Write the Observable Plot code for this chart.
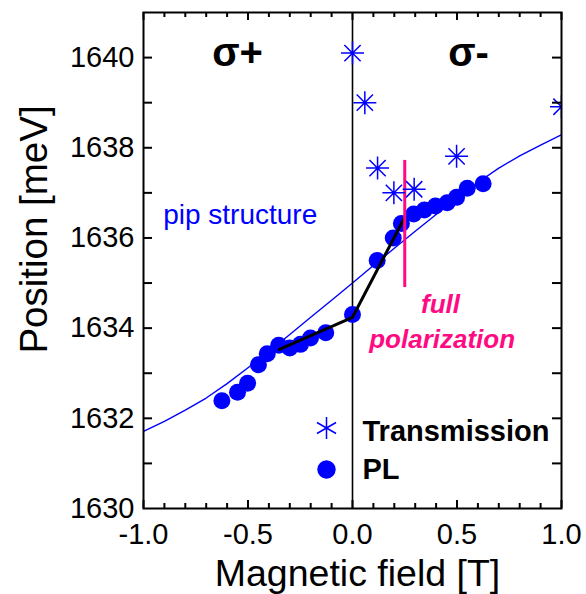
<!DOCTYPE html>
<html><head><meta charset="utf-8">
<script src="https://cdn.jsdelivr.net/npm/d3@7"></script>
<script src="https://cdn.jsdelivr.net/npm/@observablehq/plot@0.6"></script>
<style>html,body{margin:0;padding:0;background:#fff;} svg{display:block}</style>
</head><body><div id="chart"></div>
<script>
// PL peak positions
const plField  = [-0.625,-0.550,-0.502,-0.450,-0.408,-0.353,-0.300,-0.249,-0.201,-0.128,0.000,0.118,0.195,0.234,0.293,0.344,0.397,0.453,0.498,0.549,0.625];
const plEnergy = [1632.39,1632.58,1632.78,1633.19,1633.43,1633.62,1633.56,1633.64,1633.78,1633.90,1634.30,1635.50,1636.00,1636.32,1636.53,1636.62,1636.71,1636.78,1636.90,1637.10,1637.20];
// Transmission
const trField  = [0.000,0.059,0.120,0.198,0.295,0.498,1.000];
const trEnergy = [1640.10,1639.00,1637.55,1637.00,1637.08,1637.81,1638.91];
// thin blue fit curve
const fitField  = [-1.0,-0.9,-0.8,-0.7,-0.6,-0.5,-0.4,-0.3,-0.2,-0.1,0.0,0.1,0.2,0.3,0.4,0.5,0.6,0.7,0.8,0.9,1.0];
const fitEnergy = [1631.71,1631.93,1632.18,1632.45,1632.77,1633.12,1633.48,1633.86,1634.24,1634.62,1635.00,1635.39,1635.77,1636.15,1636.52,1636.88,1637.23,1637.55,1637.82,1638.06,1638.29];
// black guide line
const guideField  = [-0.35,0.0,0.25];
const guideEnergy = [1633.53,1634.24,1636.46];
// full polarization marker
const polField = [0.25];
const polFrom  = [1634.9];
const polTo    = [1637.72];
// ticks
const xMajor = [-1,-0.5,0,0.5,1];
const xMinor = [-0.9,-0.8,-0.7,-0.6,-0.4,-0.3,-0.2,-0.1,0.1,0.2,0.3,0.4,0.6,0.7,0.8,0.9];
const yMajor = [1630,1632,1634,1636,1638,1640];
const yAll   = [1631,1632,1633,1634,1635,1636,1637,1638,1639,1640];

const pl = plField.map((x,i)=>({x, y: plEnergy[i]}));
const tr = trField.map((x,i)=>({x, y: trEnergy[i]}));
const fit = fitField.map((x,i)=>({x, y: fitEnergy[i]}));
const guide = guideField.map((x,i)=>({x, y: guideEnergy[i]}));
const pol = polField.map((x,i)=>({x, y1: polFrom[i], y2: polTo[i]}));

const font = "'Liberation Sans', Arial, Helvetica, sans-serif";
const blue = "#0000ff", pink = "#ff0a82";

const W = 586, H = 594, ML = 143, MR = 25, MT = 12, MB = 86;
const FW = W - ML - MR, FH = H - MT - MB;

const star8 = {draw(c, size){ const r = Math.sqrt(size/Math.PI), d = r*Math.SQRT1_2;
  c.moveTo(-r,0); c.lineTo(r,0); c.moveTo(0,-r); c.lineTo(0,r);
  c.moveTo(-d,-d); c.lineTo(d,d); c.moveTo(-d,d); c.lineTo(d,-d); }};
const star6 = {draw(c, size){ const r = Math.sqrt(size/Math.PI), u = r*Math.sqrt(3)/2, t = r/2;
  c.moveTo(0,-r); c.lineTo(0,r); c.moveTo(-u,-t); c.lineTo(u,t); c.moveTo(-u,t); c.lineTo(u,-t); }};

const chart = Plot.plot({
  width: W, height: H,
  marginLeft: ML, marginRight: MR, marginTop: MT, marginBottom: MB,
  style: {fontFamily: font, background: "white", color: "black"},
  x: {domain: [-1, 1], axis: null},
  y: {domain: [1630, 1641], axis: null},
  marks: [
    Plot.line(fit, {x: "x", y: "y", stroke: blue, strokeWidth: 1.4, clip: true}),
    Plot.ruleX([0], {stroke: "black", strokeWidth: 1.6}),
    Plot.dot(pl, {x: "x", y: "y", r: 8.5, fill: blue, stroke: "none"}),
    Plot.line(guide, {x: "x", y: "y", stroke: "black", strokeWidth: 3}),
    Plot.ruleX(pol, {x: "x", y1: "y1", y2: "y2", stroke: pink, strokeWidth: 3}),
    Plot.dot(tr, {x: "x", y: "y", symbol: star8, r: 11.5, fill: "none", stroke: blue, strokeWidth: 1.5, clip: true}),

    // annotations
    Plot.text(["σ+"], {x: -0.55, y: 1639.82, fontSize: 40, fontWeight: "bold", textAnchor: "middle", lineAnchor: "bottom", fill: "black"}),
    Plot.text(["σ-"], {x: 0.555, y: 1639.82, fontSize: 40, fontWeight: "bold", textAnchor: "middle", lineAnchor: "bottom", fill: "black"}),
    Plot.text(["pip structure"], {x: -0.906, y: 1636.30, fontSize: 28, textAnchor: "start", lineAnchor: "bottom", fill: blue}),
    Plot.text(["full"], {x: 0.421, y: 1634.34, fontSize: 26, fontWeight: "bold", fontStyle: "italic", textAnchor: "middle", lineAnchor: "bottom", fill: pink}),
    Plot.text(["polarization"], {x: 0.429, y: 1633.56, fontSize: 26, fontWeight: "bold", fontStyle: "italic", textAnchor: "middle", lineAnchor: "bottom", fill: pink}),

    // legend
    Plot.dot([0], {frameAnchor: "top-left", dx: 183, dy: 415.5, symbol: star6, r: 11, fill: "none", stroke: blue, strokeWidth: 1.5}),
    Plot.dot([0], {frameAnchor: "top-left", dx: 183, dy: 457, r: 9.2, fill: blue, stroke: "none"}),
    Plot.text(["Transmission"], {frameAnchor: "top-left", dx: 219, dy: 428, fontSize: 29, fontWeight: "bold", textAnchor: "start", lineAnchor: "bottom", fill: "black"}),
    Plot.text(["PL"], {frameAnchor: "top-left", dx: 219, dy: 466, fontSize: 29, fontWeight: "bold", textAnchor: "start", lineAnchor: "bottom", fill: "black"}),

    // axis titles
    Plot.text(["Magnetic field [T]"], {frameAnchor: "bottom", dx: 5, dy: 77, fontSize: 37.5, textAnchor: "middle", lineAnchor: "bottom", fill: "black"}),
    Plot.text(["Position [meV]"], {frameAnchor: "left", rotate: -90, dx: -97, dy: -31, fontSize: 38.5, textAnchor: "middle", lineAnchor: "bottom", fill: "black"}),

    // tick labels
    Plot.axisX(xMajor, {anchor: "bottom", tickSize: 0, tickPadding: 14.5, fontSize: 29, tickFormat: d => d.toFixed(1), label: null}),
    Plot.axisY(yMajor, {anchor: "left", tickSize: 0, tickPadding: 9, fontSize: 29, tickFormat: d => String(d), label: null}),

    // inward ticks (short rules inset from the frame)
    Plot.ruleX(xMajor, {insetTop: FH - 8, stroke: "black", strokeWidth: 2}),
    Plot.ruleX(xMinor, {insetTop: FH - 5, stroke: "black", strokeWidth: 2}),
    Plot.ruleX(xMajor, {insetBottom: FH - 8, stroke: "black", strokeWidth: 2}),
    Plot.ruleX(xMinor, {insetBottom: FH - 5, stroke: "black", strokeWidth: 2}),
    Plot.ruleY(yAll, {insetRight: FW - 9, stroke: "black", strokeWidth: 2}),
    Plot.ruleY(yAll, {insetLeft: FW - 9, stroke: "black", strokeWidth: 2}),

    Plot.frame({stroke: "black", strokeWidth: 2})
  ]
});
document.getElementById("chart").appendChild(chart);
</script>
</body></html>
